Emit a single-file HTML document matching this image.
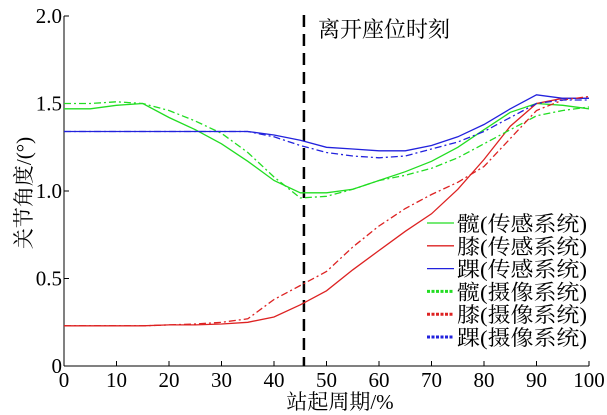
<!DOCTYPE html>
<html><head><meta charset="utf-8"><style>
body{margin:0;background:#fff}
svg{display:block}
</style></head><body>
<svg id="c" width="607" height="415"></svg>
<script>
const xs=[0,5,10,15,20,25,30,35,40,45,50,55,60,65,70,75,80,85,90,95,100];
const hipSensor=[1.47,1.47,1.49,1.50,1.42,1.35,1.27,1.17,1.06,0.99,0.99,1.01,1.06,1.11,1.17,1.25,1.35,1.45,1.50,1.49,1.47];
const kneeSensor=[0.23,0.23,0.23,0.23,0.235,0.235,0.24,0.25,0.28,0.35,0.43,0.55,0.66,0.77,0.87,1.01,1.18,1.37,1.50,1.53,1.53];
const ankleSensor=[1.34,1.34,1.34,1.34,1.34,1.34,1.34,1.34,1.32,1.29,1.25,1.24,1.23,1.23,1.26,1.31,1.38,1.47,1.55,1.53,1.53];
const hipCamera=[1.50,1.50,1.51,1.50,1.46,1.40,1.33,1.22,1.08,0.96,0.97,1.01,1.06,1.09,1.13,1.19,1.27,1.35,1.43,1.46,1.48];
const kneeCamera=[0.23,0.23,0.23,0.23,0.235,0.24,0.25,0.27,0.38,0.46,0.54,0.68,0.80,0.90,0.98,1.05,1.14,1.30,1.46,1.52,1.54];
const ankleCamera=[1.34,1.34,1.34,1.34,1.34,1.34,1.34,1.34,1.31,1.26,1.22,1.20,1.19,1.20,1.24,1.28,1.34,1.42,1.50,1.52,1.52];
const xTicks=[0,10,20,30,40,50,60,70,80,90,100];
const yTicks=[0,0.5,1.0,1.5,2.0];
const yTickLabels=["0","0.5","1.0","1.5","2.0"];
const markerX=45.7;
const FF='"Liberation Serif","Times New Roman","DejaVu Serif","Noto Serif CJK SC",serif';
const NS="http://www.w3.org/2000/svg",svg=document.getElementById('c');
const X=v=>64+v*5.25, Y=v=>366-v*175;
function mk(t,a,p){const e=document.createElementNS(NS,t);for(const k in a)e.setAttribute(k,a[k]);if(t==='text')e.setAttribute('font-family',FF);(p||svg).appendChild(e);return e;}
let e;
e=mk('line',{x1:64,y1:16,x2:64,y2:366,stroke:'#000','stroke-width':1});


e=mk('line',{x1:64,y1:366,x2:589,y2:366,stroke:'#000','stroke-width':1});


xTicks.forEach(v=>{
 e=mk('line',{x1:X(v),y1:366,x2:X(v),y2:361,stroke:'#000'});
 
 
 e=mk('text',{x:X(v),y:387,'font-size':21,'text-anchor':'middle'});e.textContent=v;
 
 
});
yTicks.forEach((v,i)=>{
 e=mk('line',{x1:64,y1:Y(v),x2:69,y2:Y(v),stroke:'#000'});
 
 
 e=mk('text',{x:62,y:Y(v)+7,'font-size':21,'text-anchor':'end'});e.textContent=yTickLabels[i];
 
 
});
e=mk('text',{x:340,y:409,'font-size':21,'text-anchor':'middle'});e.textContent='站起周期/%';


e=mk('text',{x:0,y:0,'font-size':21,'text-anchor':'middle',transform:'translate(31,193) rotate(-90)'});e.textContent='关节角度/(°)';


e=mk('line',{x1:X(markerX),y1:15,x2:X(markerX),y2:366,stroke:'#000','stroke-width':2.5,'stroke-dasharray':'12,7'});


e=mk('text',{x:318,y:37,'font-size':22}); e.textContent='离开座位时刻';


const series=[
 [hipSensor,'#22dd22',null,'hip-sensor-line'],
 [kneeSensor,'#dd2222',null,'knee-sensor-line'],
 [ankleSensor,'#2222dd',null,'ankle-sensor-line'],
 [hipCamera,'#22dd22','7,3,2,3','hip-camera-line'],
 [kneeCamera,'#dd2222','7,3,2,3','knee-camera-line'],
 [ankleCamera,'#2222dd','7,3,2,3','ankle-camera-line']];
series.forEach(s=>{
 const d=s[0].map((v,i)=>(i?'L':'M')+X(xs[i]).toFixed(1)+','+Y(v).toFixed(1)).join('');
 const a={d:d,fill:'none',stroke:s[1],'stroke-width':1.3};if(s[2])a['stroke-dasharray']=s[2];
 e=mk('path',a);
 
 
});
const legendLabels=['髋(传感系统)','膝(传感系统)','踝(传感系统)','髋(摄像系统)','膝(摄像系统)','踝(摄像系统)'];
legendLabels.forEach((t,i)=>{
 const y=223+i*22.8,s=series[i];
 const g=mk('g',{});
 
 
 const a={x1:427,y1:y,x2:454,y2:y,stroke:s[1],'stroke-width':i<3?1.3:3};if(i>=3)a['stroke-dasharray']='3,1.5';
 mk('line',a,g);
 const tx=mk('text',{x:457,y:y+8,'font-size':21,textLength:130,lengthAdjust:'spacingAndGlyphs'},g);tx.textContent=t;
});
</script>
</body></html>
